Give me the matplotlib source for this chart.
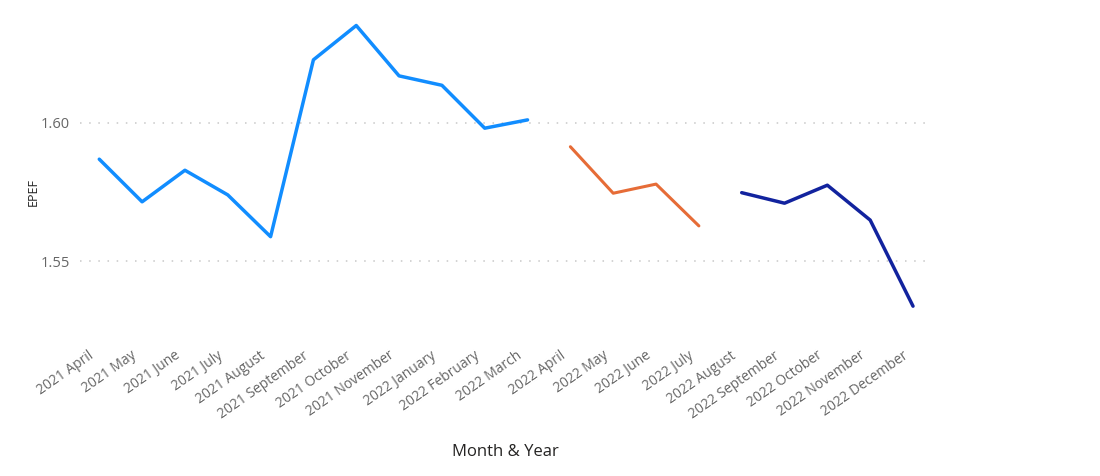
import numpy as np
import matplotlib
matplotlib.use('Agg')
import matplotlib.pyplot as plt
import matplotlib.transforms as mtransforms

# month labels on the x axis (no 2021 December in the source)
months = ['2021 April', '2021 May', '2021 June', '2021 July', '2021 August',
          '2021 September', '2021 October', '2021 November', '2022 January',
          '2022 February', '2022 March', '2022 April', '2022 May', '2022 June',
          '2022 July', '2022 August', '2022 September', '2022 October',
          '2022 November', '2022 December']

# three series, each covers its own block of months
blue_vals = [1.5868, 1.5714, 1.5828, 1.5739, 1.5588, 1.6227, 1.6351,
             1.6169, 1.6135, 1.5980, 1.6010]
orange_vals = [1.5913, 1.5745, 1.5778, 1.5627]
navy_vals = [1.5747, 1.5709, 1.5774, 1.5648, 1.5337]

blue_idx = np.arange(0, 11)
orange_idx = np.arange(11, 15)
navy_idx = np.arange(15, 20)

plt.rcParams['font.family'] = ['Open Sans', 'DejaVu Sans']

fig = plt.figure(figsize=(11, 4.76), dpi=100)
W, H = 1100, 476
ax = fig.add_axes([80 / W, 1 - 320 / H, (928 - 80) / W, 310 / H])

ax.plot(blue_idx, blue_vals, color='#118DFF', lw=2.5, solid_capstyle='round')
ax.plot(orange_idx, orange_vals, color='#E66C37', lw=2.2, solid_capstyle='round')
ax.plot(navy_idx, navy_vals, color='#12239E', lw=2.5, solid_capstyle='round')

ax.set_xlim(-0.45, 19.35)
ax.set_ylim(1.5287, 1.6407)
ax.set_yticks([1.55, 1.60])
ax.set_yticklabels(['1.55', '1.60'])
ax.grid(axis='y', color='#c8c8c8', linestyle=(0, (1, 5)), linewidth=1.1)
ax.set_axisbelow(True)

ax.set_xticks(np.arange(len(months)))
ax.set_xticklabels(months, rotation=35, ha='right', rotation_mode='anchor')
ax.tick_params(axis='both', length=0, labelcolor='#666666')
ax.tick_params(axis='x', pad=8, labelsize=10)
ax.tick_params(axis='y', pad=7, labelsize=10.5)

# nudge the rotated month labels down and left like the source
shift = mtransforms.ScaledTranslation(-11 / 100, -17 / 100, fig.dpi_scale_trans)
for lab in ax.get_xticklabels():
    lab.set_transform(lab.get_transform() + shift)

for s in ax.spines.values():
    s.set_visible(False)

fig.text(33 / W, 1 - 192 / H, 'EPEF', rotation=90, ha='center', va='center',
         fontsize=9, color='#222222')
fig.text(505 / W, 1 - 452 / H, 'Month & Year', ha='center', va='center',
         fontsize=12, color='#252423')

fig.savefig('out.png', dpi=100)
